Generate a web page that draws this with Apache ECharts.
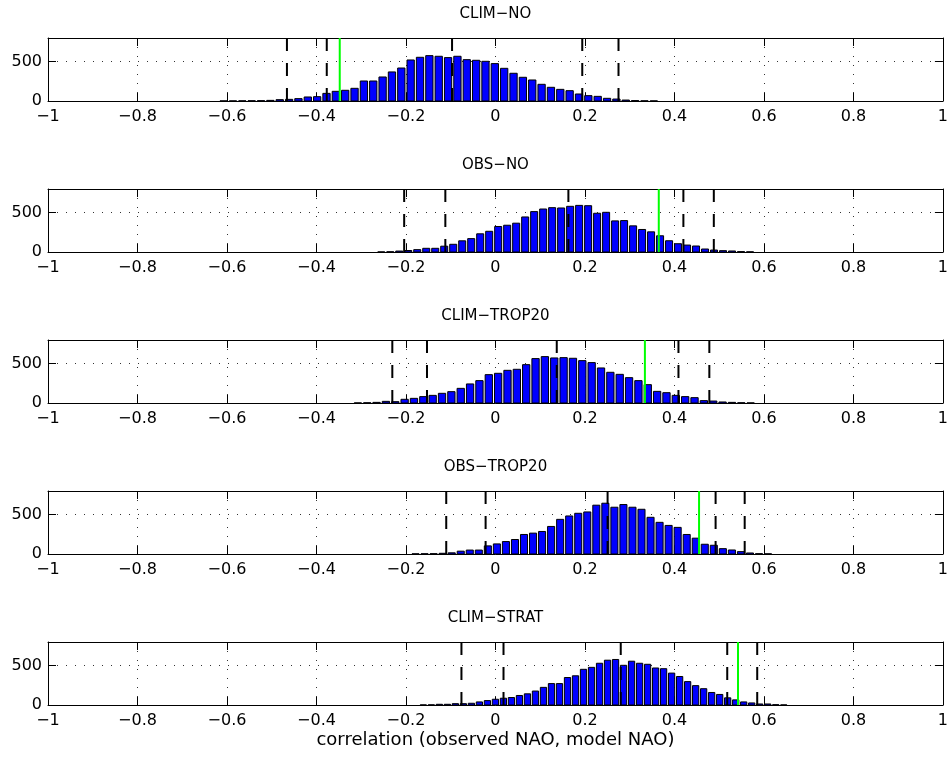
<!DOCTYPE html>
<html><head><meta charset="utf-8">
<script src="https://cdn.jsdelivr.net/npm/echarts@6/dist/echarts.min.js"></script>
<style>html,body{margin:0;padding:0;background:#fff}#c{width:951px;height:760px}</style>
</head><body><div id="c"></div>
<script>
// ---- data ----
const titles = ['CLIM−NO', 'OBS−NO', 'CLIM−TROP20', 'OBS−TROP20', 'CLIM−STRAT'];
const xLabel = 'correlation (observed NAO, model NAO)';
const xMin = -1, xMax = 1, xStep = 0.2;
const yMin = 0, yMax = 800, yStep = 500;

// histogram bins: centre of first bin and bin width for each panel
const binStart = [-0.6075, -0.2552, -0.3075, -0.1786, -0.1612];
const binWidth = [0.0209, 0.0201, 0.0209, 0.0202, 0.0179];

const countsClimNo = [1,1,2,3,4,8,17,21,30,51,55,97,123,136,161,254,254,305,369,419,521,555,576,568,551,568,525,517,504,475,415,352,301,267,212,174,148,131,89,68,59,34,25,12,5,2,1];
const countsObsNo = [1,3,12,19,30,47,47,74,98,142,170,231,263,324,340,366,445,513,546,563,559,580,592,588,492,504,395,399,332,286,256,206,143,105,88,76,38,25,17,13,5,2];
const countsClimTrop = [1,3,8,21,17,47,59,81,97,123,144,186,242,284,360,377,415,428,487,564,589,572,576,568,538,513,445,390,364,322,284,233,148,131,97,81,68,30,25,13,8,3,1];
const countsObsTrop = [2,3,4,9,15,36,50,50,103,128,158,184,248,265,286,350,440,483,517,534,620,645,594,628,594,568,466,402,363,338,248,201,124,111,68,51,30,13,4,2];
const countsClimStrat = [1,2,9,9,17,17,22,39,56,73,86,95,121,142,177,224,272,272,349,371,453,478,530,569,578,504,556,530,517,470,461,405,362,297,246,207,159,134,91,65,39,26,13,13,4,1];
const counts = [countsClimNo, countsObsNo, countsClimTrop, countsObsTrop, countsClimStrat];

// vertical reference lines
const dashedClimNo = [-0.466, -0.377, -0.097, 0.194, 0.275];
const dashedObsNo = [-0.204, -0.112, 0.163, 0.42, 0.488];
const dashedClimTrop = [-0.2305, -0.153, 0.137, 0.409, 0.478];
const dashedObsTrop = [-0.110, -0.022, 0.2506, 0.492, 0.557];
const dashedClimStrat = [-0.076, 0.018, 0.280, 0.518, 0.585];
const dashed = [dashedClimNo, dashedObsNo, dashedClimTrop, dashedObsTrop, dashedClimStrat];
const green = [-0.348, 0.365, 0.334, 0.455, 0.542];

// ---- layout / style ----
const FONT = 'DejaVu Sans';
const tops = [38, 189, 340, 491, 642];
const plotH = 63;
const barFrac = 0.78;

const chart = echarts.init(document.getElementById('c'), null, {renderer: 'canvas'});
const grids = [], xAxes = [], yAxes = [], series = [];
const fmtX = v => String(Math.round(v * 10) / 10).replace('-', '−');
const dotted = {color: '#333', width: 1, type: [1, 8]};
const black = {color: '#000', width: 1};

titles.forEach((t, i) => {
  grids.push({left: 48, right: 3, top: tops[i], height: plotH});
  const last = i === titles.length - 1;
  xAxes.push({
    gridIndex: i, type: 'value', min: xMin, max: xMax, interval: xStep, position: 'bottom',
    axisLine: {onZero: false, lineStyle: black},
    axisTick: {inside: true, length: 8, lineStyle: black},
    axisLabel: {fontFamily: FONT, fontSize: 16, color: '#000', margin: 8, formatter: fmtX},
    splitLine: {show: true, lineStyle: dotted},
    name: last ? xLabel : '', nameLocation: 'middle', nameGap: 26,
    nameTextStyle: {fontFamily: FONT, fontSize: 18, color: '#000'}
  });
  xAxes.push({
    gridIndex: i, type: 'value', min: xMin, max: xMax, interval: xStep, position: 'top',
    axisLine: {onZero: false, lineStyle: black},
    axisTick: {inside: true, length: 8, lineStyle: black},
    axisLabel: {show: false}, splitLine: {show: false},
    name: t, nameLocation: 'middle', nameGap: 16,
    nameTextStyle: {fontFamily: FONT, fontSize: 15, color: '#000'}
  });
  yAxes.push({
    gridIndex: i, type: 'value', min: yMin, max: yMax, interval: yStep, position: 'left',
    axisLine: {show: true, onZero: false, lineStyle: black},
    axisTick: {show: true, inside: true, length: 8, lineStyle: black},
    axisLabel: {fontFamily: FONT, fontSize: 16, color: '#000', margin: 6, showMaxLabel: false},
    splitLine: {show: true, lineStyle: dotted}
  });
  yAxes.push({
    gridIndex: i, type: 'value', min: yMin, max: yMax, interval: yStep, position: 'right',
    axisLine: {show: true, onZero: false, lineStyle: black},
    axisTick: {show: true, inside: true, length: 8, lineStyle: black},
    axisLabel: {show: false}, splitLine: {show: false}
  });

  const w = binWidth[i];
  series.push({
    type: 'custom', xAxisIndex: 2 * i, yAxisIndex: 2 * i, z: 2, silent: true,
    data: counts[i].map((c, k) => [binStart[i] + k * w, c]),
    encode: {x: 0, y: 1},
    renderItem: (params, api) => {
      const x = api.value(0), y = api.value(1);
      const hw = w * barFrac / 2;
      const p0 = api.coord([x - hw, y]);
      const p1 = api.coord([x + hw, 0]);
      return {type: 'rect', shape: {x: p0[0], y: p0[1], width: p1[0] - p0[0], height: p1[1] - p0[1]},
        style: {fill: '#0000ff', stroke: '#000', lineWidth: 1}};
    }
  });
  const vlines = dashed[i].map(v => [v, 0, 0]).concat([[green[i], 0, 1]]);
  series.push({
    type: 'custom', xAxisIndex: 2 * i, yAxisIndex: 2 * i, z: 4, silent: true,
    data: vlines, encode: {x: 0, y: 1},
    renderItem: (params, api) => {
      const x = api.value(0), isGreen = api.value(2) === 1;
      const p0 = api.coord([x, yMin]);
      const p1 = api.coord([x, yMax]);
      return {type: 'line', shape: {x1: p0[0], y1: p0[1], x2: p1[0], y2: p1[1]},
        style: isGreen ? {stroke: '#00ff00', lineWidth: 2}
                       : {stroke: '#000', lineWidth: 2, lineDash: [13, 12]}};
    }
  });
});

chart.setOption({animation: false, backgroundColor: '#fff', grid: grids, xAxis: xAxes, yAxis: yAxes, series: series});
</script></body></html>
